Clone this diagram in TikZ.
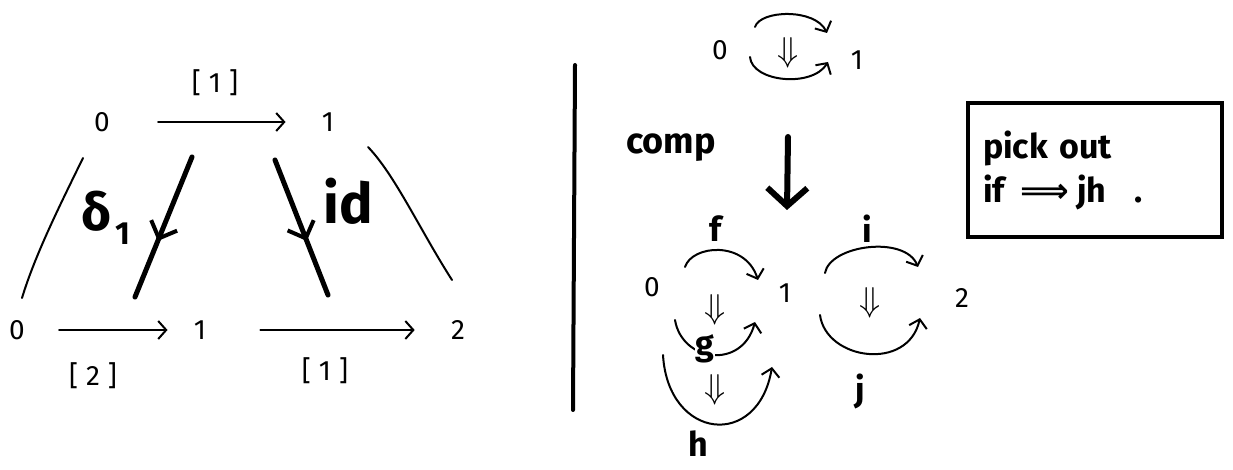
\documentclass[tikz,border=0pt]{standalone}
\usepackage{fontspec}
\setmainfont{Fira Sans}
\newfontfamily\dejavu{DejaVu Sans}
\usetikzlibrary{arrows.meta,decorations.markings}
\begin{document}
\begin{tikzpicture}[x=0.5pt,y=-0.5pt]
\tikzset{
  num/.style={font=\fontsize{14}{16}\selectfont, inner sep=1pt},
  brk/.style={font=\fontsize{14}{16}\selectfont, inner sep=1pt},
  lab/.style={font=\fontsize{17}{19}\selectfont\bfseries, inner sep=1pt},
  cell/.style={font=\fontsize{16}{18}\selectfont, inner sep=0pt},
  thinline/.style={line width=1pt, line cap=round},
  harr/.style={thinline, -{Straight Barb[length=4pt,width=9pt]}},
  thickarr/.style={line width=2.5pt, line cap=round, postaction={decorate},
    decoration={markings, mark=at position 0.6 with {\arrow{Straight Barb[length=7pt,width=14pt,line width=2pt]}}}},
  bigarr/.style={line width=3pt, line cap=round, -{Straight Barb[length=9pt,width=20pt,line width=3pt]}},
  framebox/.style={draw, line width=2pt, minimum width=127pt, minimum height=67pt,
    text width=112pt, align=left, font=\fontsize{17}{24}\selectfont\bfseries, inner sep=0pt}
}
\useasboundingbox (0,0) rectangle (1233,470);

% ---------- left diagram ----------
\node[num] (L0) at (102,122) {0};
\node[num] (L1) at (328,122) {1};
\node[num] (B0) at (17,330) {0};
\node[num] (B1) at (200,330) {1};
\node[num] (B2) at (458,330) {2};

\draw[harr, shorten <=23pt, shorten >=17pt] (L0) -- (L1);
\draw[harr, shorten <=16pt, shorten >=12pt] (B0) -- (B1);
\draw[harr, shorten <=26pt, shorten >=17pt] (B1) -- (B2);

\node[brk] (lt)  at (215,83)  {[\hspace{4pt}1\hspace{4pt}]};
\node[brk] (lb1) at (93,376)  {[\hspace{4pt}2\hspace{4pt}]};
\node[brk] (lb2) at (325,371) {[\hspace{4pt}1\hspace{4pt}]};

\coordinate (sl1) at (83,158);
\coordinate (sl2) at (22,298);
\draw[thinline] (sl1) .. controls (60,205) and (35,255) .. (sl2);
\coordinate (sr1) at (368,147);
\coordinate (sr2) at (452,280);
\draw[thinline] (sr1) .. controls (395,175) and (420,230) .. (sr2);

\coordinate (d1s) at (192,157);
\coordinate (d1e) at (135,297);
\draw[thickarr] (d1s) -- (d1e);
\coordinate (ids) at (275,160);
\coordinate (ide) at (328,295);
\draw[thickarr] (ids) -- (ide);

\node[inner sep=0pt] (ld) at (106,218) {\fontsize{26}{26}\selectfont\bfseries δ\hspace{2pt}\raisebox{-7pt}{\fontsize{16}{16}\selectfont 1}};
\node[inner sep=0pt, font=\fontsize{28}{30}\selectfont\bfseries] (lid) at (348,201) {id};

% ---------- separator ----------
\coordinate (sep1) at (575,65);
\coordinate (sep2) at (573,410);
\draw[line width=2pt, line cap=round] (sep1) -- (sep2);

% ---------- right diagram ----------
\node[num] (R0) at (720,50) {0};
\node[num] (R1) at (857,60) {1};
\node[cell] (Rc) at (788,53) {$\Downarrow$};
\coordinate (ru1) at (755,27);
\coordinate (ru2) at (827,33);
\draw[harr] (ru1) .. controls (760,10) and (815,8) .. (ru2);
\coordinate (rl1) at (750,57);
\coordinate (rl2) at (828,62);
\draw[harr] (rl1) .. controls (752,82) and (812,88) .. (rl2);

\node[lab, font=\fontsize{18}{20}\selectfont\bfseries] (comp) at (671,148) {comp};
\coordinate (ca1) at (788,137);
\coordinate (ca2) at (787,210);
\draw[bigarr] (ca1) -- (ca2);

\node[num] (S0) at (652,287) {0};
\node[num] (S1) at (785,293) {1};
\node[num] (S2) at (962,298) {2};

\coordinate (f1) at (685,267);
\coordinate (f2) at (758,280);
\draw[harr] (f1) .. controls (692,245) and (745,240) .. (f2);
\coordinate (g1) at (675,320);
\coordinate (g2) at (755,322);
\draw[harr] (g1) .. controls (682,362) and (742,370) .. (g2);
\coordinate (h1) at (663,355);
\coordinate (h2) at (772,367);
\draw[harr] (h1) .. controls (668,440) and (758,450) .. (h2);
\coordinate (i1) at (825,273);
\coordinate (i2) at (918,267);
\draw[harr] (i1) .. controls (830,245) and (905,235) .. (i2);
\coordinate (j1) at (820,315);
\coordinate (j2) at (920,318);
\draw[harr] (j1) .. controls (826,360) and (908,372) .. (j2);

\node[cell] (cfg) at (715,310) {$\Downarrow$};
\node[cell] (cgh) at (715,390) {$\Downarrow$};
\node[cell] (cij) at (870,303) {$\Downarrow$};

\node[lab] (f) at (716,229) {f};
\node[lab, fill=white, inner sep=0.5pt] (g) at (705,349) {g};
\node[lab] (h) at (698,444) {h};
\node[lab] (i) at (867,229) {i};
\node[lab] (j) at (860,391) {j};

% ---------- box ----------
\node[framebox] (box) at (1095,170) {pick out\\[-2pt] if\hspace{8pt}{\dejavu\bfseries ⟹}\hspace{4pt}jh\hspace{14pt}.\\[6pt]};
\end{tikzpicture}
\end{document}
